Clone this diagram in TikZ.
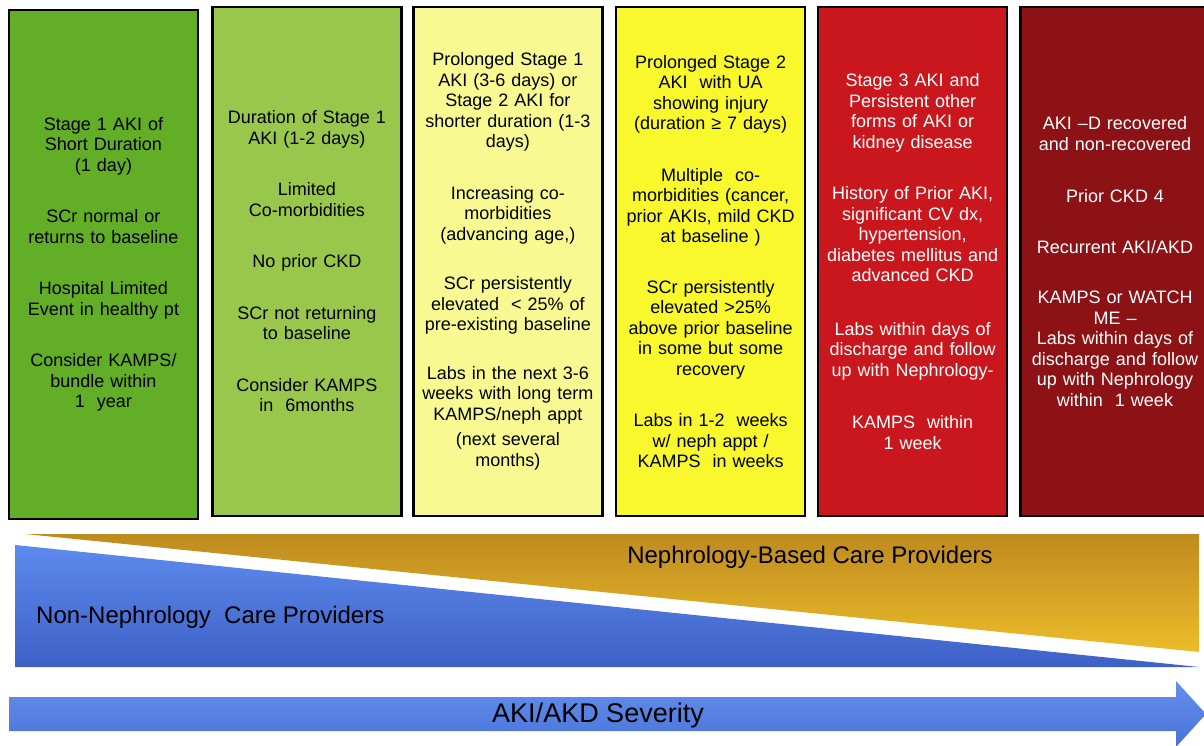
\documentclass[tikz,border=0pt]{standalone}
\usepackage{fontspec}
\setmainfont{Liberation Sans}
\usetikzlibrary{positioning}
\definecolor{StageGreen}{HTML}{62AE26}
\definecolor{LimeGreen}{HTML}{98C74C}
\definecolor{PaleYellow}{HTML}{F9F991}
\definecolor{BrightYellow}{HTML}{F8F82C}
\definecolor{StageRed}{HTML}{C9171D}
\definecolor{DarkRed}{HTML}{8D1216}
\definecolor{GoldTop}{HTML}{BE8B1F}
\definecolor{GoldBottom}{HTML}{ECBC2A}
\definecolor{BlueTop}{HTML}{5D8AEE}
\definecolor{BlueBottom}{HTML}{3E61C6}
\definecolor{ArrowTop}{HTML}{6490EC}
\definecolor{ArrowBottom}{HTML}{4A72D8}

\begin{document}
\begin{tikzpicture}[
      x=1pt, y=-1pt,
      every node/.style={align=center},
      stage/.style={draw=black, line width=2.4pt, minimum width=189pt, minimum height=509pt, text width=184pt, inner sep=0pt, font=\fontsize{18}{20.5}\selectfont},
      band/.style={inner sep=0pt, font=\fontsize{24}{28}\selectfont}
    ]
      \useasboundingbox (0,0) rectangle (1204,746);
      \node[stage, fill=StageGreen] (s1) at (103.5,264.5) {Stage 1 AKI of\\Short Duration\\(1 day)\\[31pt]SCr normal or\\returns to baseline\\[31pt]Hospital Limited\\Event in healthy pt\\[31pt]Consider KAMPS/\\bundle within\\1\ \ year};
      \node[stage, fill=LimeGreen, right=12pt of s1, yshift=3pt] (s2) {Duration of Stage 1\\AKI (1-2 days)\\[31pt]Limited\\Co-morbidities\\[31pt]No prior CKD\\[31pt]SCr not returning\\to baseline\\[31pt]Consider KAMPS\\in\ \ 6months};
      \node[stage, fill=PaleYellow, right=9.5pt of s2] (s3) {Prolonged Stage 1\\AKI (3-6 days) or\\Stage 2 AKI for\\shorter duration (1-3\\days)\\[31pt]Increasing co-\\morbidities\\(advancing age,)\\[29pt]SCr persistently\\elevated\ \ < 25\% of\\pre-existing baseline\\[28pt]Labs in the next 3-6\\weeks with long term\\KAMPS/neph appt\\[5pt](next several\\months)};
      \node[stage, fill=BrightYellow, right=11.5pt of s3] (s4) {Prolonged Stage 2\\AKI\ \ with UA\\showing injury\\(duration ≥ 7 days)\\[31pt]Multiple\ \ co-\\morbidities (cancer,\\prior AKIs, mild CKD\\at baseline )\\[30pt]SCr persistently\\elevated >25\%\\above prior baseline\\in some but some\\recovery\\[31pt]Labs in 1-2\ \ weeks\\w/ neph appt /\\KAMPS\ \ in weeks};
      \node[stage, fill=StageRed, text=white, right=10.5pt of s4] (s5) {Stage 3 AKI and\\Persistent other\\forms of AKI or\\kidney disease\\[31pt]History of Prior AKI,\\significant CV dx,\\hypertension,\\diabetes mellitus and\\advanced CKD\\[33pt]Labs within days of\\discharge and follow\\up with Nephrology-\\[32pt]KAMPS\ \ within\\1 week};
      \node[stage, fill=DarkRed, text=white, right=11pt of s5] (s6) {AKI –D recovered\\and non-recovered\\[32pt]Prior CKD 4\\[30pt]Recurrent AKI/AKD\\[30pt]KAMPS or WATCH\\ME –\\Labs within days of\\discharge and follow\\up with Nephrology\\within\ \ 1 week};
      % Provider wedges
      \shade[top color=GoldTop, bottom color=GoldBottom] (25,534) -- (1199,534) -- (1199,652) -- cycle;
      \shade[top color=BlueTop, bottom color=BlueBottom] (15,545) -- (1199,667) -- (15,667) -- cycle;
      \node[band] (nephro) at (810,557) {Nephrology-Based Care Providers};
      \node[band, anchor=west] (nonnephro) at (36,617) {Non-Nephrology\ \ Care Providers};
      % Severity arrow
      \shade[top color=ArrowTop, bottom color=ArrowBottom] (9,697) -- (1176,697) -- (1176,681) -- (1206,714) -- (1176,747) -- (1176,731) -- (9,731) -- cycle;
      \node[font=\fontsize{27}{30}\selectfont, inner sep=0pt] (severity) at (598,716) {AKI/AKD Severity};
    \end{tikzpicture}
\end{document}
